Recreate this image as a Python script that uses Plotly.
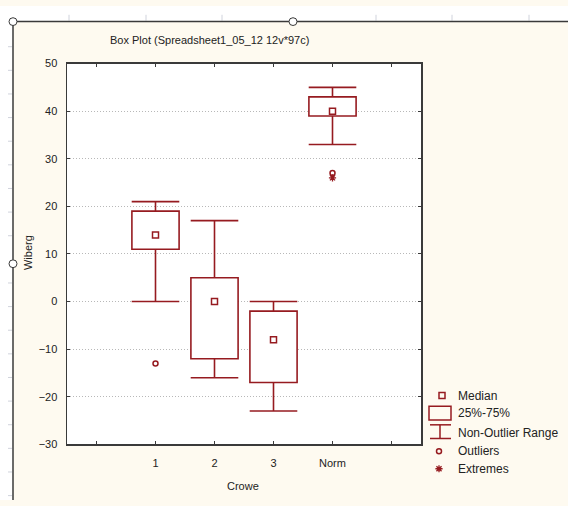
import plotly.graph_objects as go

W, H = 568, 506

# ---- data ----
categories = ['1', '2', '3', 'Norm']
positions = [1, 2, 3, 4]
q1 = [11, -12, -17, 39]
median = [14, 0, -8, 40]
q3 = [19, 5, -2, 43]
lower_fence = [0, -16, -23, 33]
upper_fence = [21, 17, 0, 45]
outlier_x = [1, 4]
outlier_y = [-13, 27]
extreme_x = [4]
extreme_y = [26]
y_ticks = [-30, -20, -10, 0, 10, 20, 30, 40, 50]
x_tickvals = [0, 1, 2, 3, 4, 5]
x_ticktext = [''] + categories + ['']
legend_labels = ['Median', '25%-75%', 'Non-Outlier Range', 'Outliers', 'Extremes']

RED = '#961b20'
FRAME = '#3a3a3a'
CREAM = '#fefaf0'
FONT = 'Liberation Sans, Arial, sans-serif'

def px(x):
    return x / W

def py(y):
    return 1 - y / H

fig = go.Figure()

# 25%-75% boxes
fig.add_trace(go.Bar(
    x=positions, y=[b - a for a, b in zip(q1, q3)], base=q1, width=0.8,
    marker=dict(color='white', line=dict(color=RED, width=1.6)),
    showlegend=False, hoverinfo='skip'))

# whisker stems
wx, wy = [], []
for p, a, b, lo, hi in zip(positions, q1, q3, lower_fence, upper_fence):
    wx += [p, p, None, p, p, None]
    wy += [b, hi, None, a, lo, None]
fig.add_trace(go.Scatter(x=wx, y=wy, mode='lines', line=dict(color=RED, width=1.6),
                         showlegend=False, hoverinfo='skip'))
# whisker caps
fig.add_trace(go.Scatter(
    x=positions + positions, y=upper_fence + lower_fence, mode='markers', showlegend=False,
    marker=dict(symbol='line-ew-open', size=34, color=RED, line=dict(width=1.6, color=RED))))

fig.add_trace(go.Scatter(
    x=positions, y=median, mode='markers', showlegend=False,
    marker=dict(symbol='square-open', size=6, color=RED, line=dict(width=1.5, color=RED))))

fig.add_trace(go.Scatter(
    x=outlier_x, y=outlier_y, mode='markers', showlegend=False,
    marker=dict(symbol='circle-open', size=5, color=RED, line=dict(width=1.5, color=RED))))

fig.add_trace(go.Scatter(
    x=extreme_x, y=extreme_y, mode='markers', showlegend=False,
    marker=dict(symbol='asterisk-open', size=6, color=RED, line=dict(width=1.3, color=RED))))

# legend markers on a pixel overlay axis
leg_text_y = [399, 417, 437, 456, 474]
fig.add_trace(go.Scatter(
    x=[442], y=[leg_text_y[0]], xaxis='x2', yaxis='y2', mode='markers', showlegend=False,
    marker=dict(symbol='square-open', size=6, color=RED, line=dict(width=1.5, color=RED))))
fig.add_trace(go.Scatter(
    x=[439], y=[leg_text_y[3]], xaxis='x2', yaxis='y2', mode='markers', showlegend=False,
    marker=dict(symbol='circle-open', size=5, color=RED, line=dict(width=1.5, color=RED))))
fig.add_trace(go.Scatter(
    x=[439], y=[leg_text_y[4]], xaxis='x2', yaxis='y2', mode='markers', showlegend=False,
    marker=dict(symbol='asterisk-open', size=6, color=RED, line=dict(width=1.3, color=RED))))

shapes = []
# backgrounds
shapes.append(dict(type='rect', xref='paper', yref='paper', x0=0, x1=1, y0=py(16), y1=1,
                   fillcolor='white', line=dict(width=0), layer='below'))
shapes.append(dict(type='rect', xref='paper', yref='paper', x0=0, x1=px(13), y0=0, y1=1,
                   fillcolor='white', line=dict(width=0), layer='below'))
shapes.append(dict(type='rect', xref='paper', yref='paper', x0=px(67), x1=px(421), y0=py(449), y1=py(59),
                   fillcolor='white', line=dict(width=0), layer='below'))
# ruler ticks
for xt in [69, 146, 222, 376, 452, 529]:
    shapes.append(dict(type='line', xref='paper', yref='paper', x0=px(xt), x1=px(xt), y0=py(9), y1=py(15),
                       line=dict(color='#d0d3dc', width=1), layer='below'))
yt = 41.7
while yt < H:
    if abs(yt - 264) > 6:
        shapes.append(dict(type='line', xref='paper', yref='paper', x0=px(8), x1=px(12), y0=py(yt), y1=py(yt),
                           line=dict(color='#d0d3dc', width=1), layer='below'))
    yt += 24.2
# frame
shapes.append(dict(type='line', xref='paper', yref='paper', x0=px(13), x1=px(13), y0=py(16), y1=0,
                   line=dict(color=FRAME, width=1.5)))
shapes.append(dict(type='line', xref='paper', yref='paper', x0=px(13), x1=1, y0=py(16), y1=py(16),
                   line=dict(color=FRAME, width=1.5)))
for cx, cy in [(13, 16), (293, 16), (13, 264)]:
    shapes.append(dict(type='circle', xref='paper', yref='paper', x0=px(cx - 4), x1=px(cx + 4),
                       y0=py(cy + 4), y1=py(cy - 4), fillcolor='white', line=dict(color=FRAME, width=1)))
# legend icons
shapes.append(dict(type='rect', xref='paper', yref='paper', x0=px(429), x1=px(451), y0=py(424), y1=py(410),
                   line=dict(color=RED, width=1.5)))
shapes.append(dict(type='line', xref='paper', yref='paper', x0=px(440), x1=px(440), y0=py(443), y1=py(429),
                   line=dict(color=RED, width=1.5)))
for cy in [429, 443]:
    shapes.append(dict(type='line', xref='paper', yref='paper', x0=px(430), x1=px(451), y0=py(cy), y1=py(cy),
                       line=dict(color=RED, width=1.5)))

annotations = []
annotations.append(dict(text='Box Plot (Spreadsheet1_05_12 12v*97c)', x=px(108), y=py(35), xref='paper', yref='paper',
                        xanchor='left', yanchor='middle', showarrow=False, font=dict(family=FONT, size=11, color='#222')))
annotations.append(dict(text='Wiberg', x=px(28), y=py(252), xref='paper', yref='paper', textangle=-90,
                        xanchor='center', yanchor='middle', showarrow=False, font=dict(family=FONT, size=11, color='#222')))
annotations.append(dict(text='Crowe', x=px(243), y=py(492), xref='paper', yref='paper',
                        xanchor='center', yanchor='middle', showarrow=False, font=dict(family=FONT, size=11, color='#222')))
for lab, ly in zip(legend_labels, leg_text_y):
    annotations.append(dict(text=lab, x=px(456), y=py(ly), xref='paper', yref='paper',
                            xanchor='left', yanchor='middle', showarrow=False, font=dict(family=FONT, size=12, color='#222')))

fig.update_layout(
    width=W, height=H,
    margin=dict(l=0, r=0, t=0, b=0),
    paper_bgcolor=CREAM, plot_bgcolor='rgba(0,0,0,0)',
    showlegend=False, barmode='overlay',
    font=dict(family=FONT, size=11, color='#222'),
    xaxis=dict(domain=[px(67), px(421)], range=[-0.5, 5.5], tickvals=x_tickvals, ticktext=x_ticktext,
               ticks='inside', ticklen=3, tickcolor=FRAME, showline=True, linecolor=FRAME, linewidth=1.5,
               mirror='ticks', showgrid=False, zeroline=False, anchor='y', fixedrange=True,
               ticklabelstandoff=8, tickfont=dict(family=FONT, size=11, color='#222')),
    yaxis=dict(domain=[py(449), py(59)], range=[-30, 50], tickvals=y_ticks,
               ticks='inside', ticklen=3, tickcolor=FRAME, showline=True, linecolor=FRAME, linewidth=1.5,
               mirror='ticks', showgrid=True, gridcolor='#b8b8b8', griddash='1px,2px', gridwidth=1,
               zeroline=False, anchor='x', fixedrange=True, ticklabelstandoff=6,
               tickfont=dict(family=FONT, size=11, color='#222')),
    xaxis2=dict(domain=[0, 1], range=[0, W], visible=False, anchor='y2', fixedrange=True),
    yaxis2=dict(domain=[0, 1], range=[H, 0], visible=False, anchor='x2', fixedrange=True),
    shapes=shapes, annotations=annotations,
)

fig.write_html(
    'out.html',
    config={'displayModeBar': False, 'staticPlot': True},
    post_script=("document.documentElement.style.margin='0';document.body.style.margin='0';"
                 "document.body.style.overflow='hidden';"
                 "var d=document.getElementById('{plot_id}');d.style.position='fixed';"
                 "d.style.top='0';d.style.left='0';"),
)
